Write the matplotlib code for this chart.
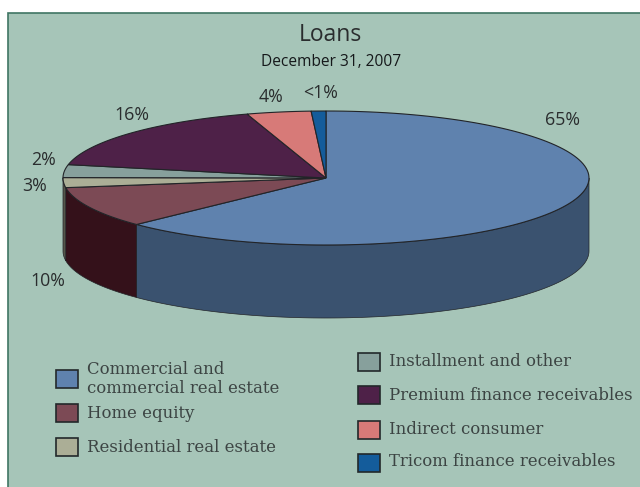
import numpy as np
import matplotlib
matplotlib.use("Agg")
import matplotlib.pyplot as plt
from matplotlib.patches import Rectangle

# Slices, clockwise from the top
categories = ['Commercial and\ncommercial real estate', 'Home equity', 'Residential real estate',
              'Installment and other', 'Premium finance receivables', 'Indirect consumer',
              'Tricom finance receivables']
# share of the drawn pie
shares = [62.8, 9.9, 2.4, 3.1, 16.95, 3.95, 0.9]
labels = ['65%', '10%', '3%', '2%', '16%', '4%', '<1%']

colors = ['#5F82AE', '#7C4A55', '#ABAE96', '#87A09C', '#4E2148', '#D77A78', '#145C9B']
side_colors = ['#3A526F', '#34111A', '#55564A', '#55645F', '#2B1228', '#8A4C4B', '#0D3A60']

bg = '#A6C5B8'
dark = '#222428'
text_col = '#2A2D2E'
cx, cy, rx, ry, depth = 326, 178, 263, 67, 73


def arc(a0, a1, dy=0):
    t = np.radians(np.linspace(a0, a1, 120))
    return cx + rx * np.cos(t), cy - ry * np.sin(t) + dy


fig = plt.figure(figsize=(6.4, 4.87), dpi=100, facecolor='white')
ax = fig.add_axes([0, 0, 1, 1])
ax.set_xlim(0, 640)
ax.set_ylim(487, 0)
ax.axis('off')

ax.add_patch(Rectangle((8, 13), 640, 480, facecolor=bg, edgecolor='#3F7563', lw=1.2))

# slice edges in degrees, going clockwise from 90
edges = 90 - np.cumsum([0] + shares) * 3.6
edges = edges - (edges[-1] - (90 - 360))

# side wall (only the front half shows)
for i in range(len(shares)):
    a0, a1 = edges[i], edges[i + 1]
    # front half is -180..0 on this running angle
    lo, hi = max(a1, -180), min(a0, 0)
    if lo >= hi:
        continue
    x1, y1 = arc(hi, lo)
    x2, y2 = arc(lo, hi, depth)
    ax.fill(np.r_[x1, x2], np.r_[y1, y2], color=side_colors[i], ec=dark, lw=0.5, zorder=2)

# top face
for i in range(len(shares)):
    x, y = arc(edges[i], edges[i + 1])
    ax.fill(np.r_[cx, x], np.r_[cy, y], facecolor=colors[i], edgecolor=dark, lw=0.8, zorder=3)

# percentage labels
label_pos = [(562, 120), (48, 281), (35, 186), (44, 160), (132, 115), (271, 97), (321, 93)]
for lab, (x, y) in zip(labels, label_pos):
    ax.text(x, y, lab, ha='center', va='center', fontsize=12.8, color=text_col, family='Open Sans')

ax.text(330, 35, 'Loans', ha='center', va='center', fontsize=16.5, color=text_col,
        family='Open Sans', weight='medium')
ax.text(331, 62, 'December 31, 2007', ha='center', va='center', fontsize=11.2, color='#15181A',
        family='Open Sans')

# legend
leg_x = [56, 56, 56, 358, 358, 358, 358]
leg_y = [379, 413, 447, 362, 395, 430, 463]
leg_txt_y = [379, 413, 447, 362, 396, 429, 462]
for i in range(len(categories)):
    ax.add_patch(Rectangle((leg_x[i], leg_y[i] - 9), 22, 18, facecolor=colors[i], edgecolor='#22282A', lw=1.2))
    ax.text(leg_x[i] + 31, leg_txt_y[i], categories[i], ha='left', va='center', fontsize=11.9,
            color='#3C4443', family='DejaVu Serif', linespacing=1.2)

fig.savefig('out.png', dpi=100)
